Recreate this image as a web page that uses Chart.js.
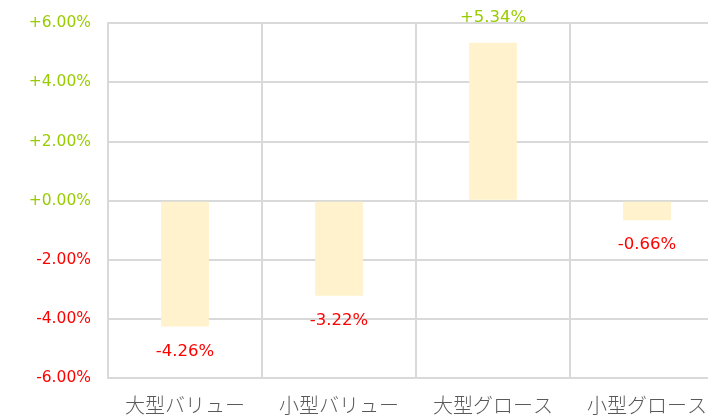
<!DOCTYPE html>
<html>
<head>
<meta charset="utf-8">
<script src="https://cdn.jsdelivr.net/npm/chart.js@4"></script>
<style>
  html, body { margin: 0; padding: 0; overflow: hidden; background: #fff; }
  #chart { display: block; margin-top: -3px; }
</style>
</head>
<body>
<canvas id="chart" width="730" height="419"></canvas>
<script>
const categories = ['大型バリュー', '小型バリュー', '大型グロース', '小型グロース'];
const returns = [-4.26, -3.22, 5.34, -0.66];
const yTicks = [-6, -4, -2, 0, 2, 4, 6];

const GREEN = '#99CC00';
const RED = '#FF0000';
const NUM_FONT = '"DejaVu Sans", sans-serif';
const JP_FONT = '"Noto Sans CJK JP", sans-serif';

function fmt(v) {
    return (v >= 0 ? '+' : '') + v.toFixed(2) + '%';
}

// draw value labels above/below each bar
const valueLabels = {
    id: 'valueLabels',
    afterDatasetsDraw(chart) {
        const ctx = chart.ctx;
        const meta = chart.getDatasetMeta(0);
        ctx.save();
        ctx.font = '16.5px ' + NUM_FONT;
        ctx.textAlign = 'center';
        ctx.textBaseline = 'middle';
        meta.data.forEach((bar, i) => {
            const v = returns[i];
            ctx.fillStyle = v >= 0 ? GREEN : RED;
            const y = v >= 0 ? bar.y - 25 : bar.y + 25;
            ctx.fillText(fmt(v), bar.x, y);
        });
        ctx.restore();
    }
};

const ctx = document.getElementById('chart').getContext('2d');
new Chart(ctx, {
    type: 'bar',
    data: {
        labels: categories,
        datasets: [{
            data: returns,
            backgroundColor: '#FFF2CC',
            borderWidth: 0,
            categoryPercentage: 1,
            barPercentage: 0.31
        }]
    },
    options: {
        responsive: false,
        animation: false,
        layout: { padding: { top: 14, right: 6, left: 0, bottom: 0 } },
        plugins: {
            legend: { display: false },
            tooltip: { enabled: false }
        },
        scales: {
            x: {
                grid: { color: '#D9D9D9', lineWidth: 2, drawTicks: false, offset: true },
                border: { color: '#D9D9D9', width: 2 },
                ticks: { color: '#595959', font: { size: 20, family: JP_FONT, weight: 300 }, padding: 15, maxRotation: 0 },
                afterFit(scale) { scale.height = 38; }
            },
            y: {
                min: -6,
                max: 6,
                afterBuildTicks(scale) { scale.ticks = yTicks.map(v => ({ value: v })); },
                grid: { color: '#D9D9D9', lineWidth: 2, drawTicks: false },
                border: { color: '#D9D9D9', width: 2 },
                ticks: {
                    padding: 17,
                    font: { size: 15.5, family: NUM_FONT },
                    color: (c) => c.tick.value >= 0 ? GREEN : RED,
                    callback: (v) => fmt(v)
                },
                afterFit(scale) { scale.width = 108; }
            }
        }
    },
    plugins: [valueLabels]
});
</script>
</body>
</html>
